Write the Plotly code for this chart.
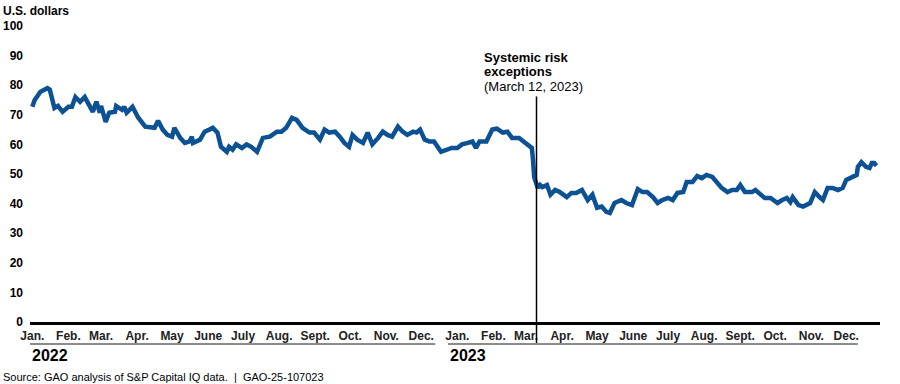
import plotly.graph_objects as go

dates = [
"2022-01-03","2022-01-05","2022-01-10","2022-01-16","2022-01-18","2022-01-22","2022-01-25","2022-01-29",
"2022-02-03","2022-02-06","2022-02-09","2022-02-13","2022-02-17","2022-02-20","2022-02-24","2022-02-27",
"2022-03-02","2022-03-03","2022-03-07","2022-03-10","2022-03-15","2022-03-16","2022-03-21","2022-03-23","2022-03-25","2022-03-30",
"2022-04-04","2022-04-10","2022-04-16","2022-04-18","2022-04-21","2022-04-25","2022-04-29",
"2022-05-03","2022-05-05","2022-05-10","2022-05-14","2022-05-18","2022-05-20","2022-05-21","2022-05-27","2022-05-31",
"2022-06-04","2022-06-07","2022-06-11","2022-06-14","2022-06-19","2022-06-21","2022-06-24","2022-06-27",
"2022-07-02","2022-07-06","2022-07-10","2022-07-15","2022-07-20","2022-07-26",
"2022-08-01","2022-08-05","2022-08-09","2022-08-14","2022-08-18","2022-08-21","2022-08-23","2022-08-29",
"2022-09-02","2022-09-07","2022-09-11","2022-09-15","2022-09-20","2022-09-24","2022-09-28",
"2022-10-02","2022-10-05","2022-10-09","2022-10-14","2022-10-18","2022-10-22","2022-10-27","2022-10-31",
"2022-11-04","2022-11-08","2022-11-13","2022-11-17","2022-11-21","2022-11-26","2022-11-29",
"2022-12-02","2022-12-06","2022-12-10","2022-12-14","2022-12-20","2022-12-25","2022-12-29",
"2023-01-03","2023-01-07","2023-01-12","2023-01-16","2023-01-19","2023-01-22","2023-01-28",
"2023-02-02","2023-02-06","2023-02-11","2023-02-15","2023-02-19","2023-02-25",
"2023-03-03","2023-03-08","2023-03-09","2023-03-10","2023-03-13","2023-03-15","2023-03-17","2023-03-21","2023-03-24","2023-03-28",
"2023-04-01","2023-04-07","2023-04-11","2023-04-15","2023-04-20","2023-04-25","2023-04-29",
"2023-05-03","2023-05-07","2023-05-11","2023-05-14","2023-05-18","2023-05-24","2023-05-28",
"2023-06-02","2023-06-06","2023-06-07","2023-06-11","2023-06-15","2023-06-20","2023-06-24","2023-06-28",
"2023-07-03","2023-07-07","2023-07-11","2023-07-16","2023-07-19","2023-07-24","2023-07-28",
"2023-08-01","2023-08-05","2023-08-10","2023-08-14","2023-08-18","2023-08-23","2023-08-27","2023-08-31",
"2023-09-03","2023-09-07","2023-09-13","2023-09-16","2023-09-20","2023-09-24","2023-09-29",
"2023-10-01","2023-10-05","2023-10-09","2023-10-13","2023-10-16","2023-10-18","2023-10-23","2023-10-27",
"2023-11-02","2023-11-06","2023-11-10","2023-11-13","2023-11-17","2023-11-21","2023-11-26","2023-11-30",
"2023-12-03","2023-12-07","2023-12-12","2023-12-13","2023-12-16","2023-12-20","2023-12-23","2023-12-25","2023-12-27","2023-12-29",
]

prices = [
72.7,75,77.8,79,78.5,72.3,73,71,
72.7,72.7,76,74.4,76,74,71,74.4,
70.7,73,67.6,70.7,71,73,71.7,72.7,70.7,72.7,
69,66,65.6,65.6,68,65,63.2,
62.6,65.6,62.2,60.5,61,62.6,60.5,61.6,64.3,
65,65.6,64,59.2,57.5,59.2,58.2,60,
58.8,60,59.2,57.5,62.2,62.6,
64.3,64.3,65.6,69,68.3,66.6,65.6,64,
64,61.6,65,64,64.3,62.6,60.5,
59.2,63.2,61.6,60.5,64,60,62.2,64.3,
63.2,62.6,66,64.3,63.2,64.3,64,
65,61.6,61,61,57.5,58.2,58.8,
58.8,60,60.5,61,58.8,61,61,
65,65.3,64,64.3,62.2,62.2,
60.5,58.8,54.8,49,45.3,46.3,45.6,46.3,43,44.6,
43.9,42.2,43.6,43.6,44.6,41.2,43,
38.6,39,37.2,36.8,40.2,41.2,40.2,
39.5,43.6,44.9,43.9,43.9,42.2,40.2,41.2,
41.9,41.2,43.6,43.9,47.3,47.3,49.3,
48.6,49.7,49,47,45.3,43.9,44.6,44.6,
46.3,43.9,43.9,44.6,43,41.9,41.9,
41.2,40.2,41.2,41.9,40.5,42.2,39.5,39,
40.2,43.9,42.2,41.2,45.3,45.3,44.6,45.3,
48,48.6,49.7,52.4,54,52.4,52,53.7,53.7,52.8,
]

month_ticks = ["2022-01-03","2022-02-03","2022-03-03","2022-04-03","2022-05-03","2022-06-03",
               "2022-07-03","2022-08-03","2022-09-03","2022-10-03","2022-11-03","2022-12-03",
               "2023-01-03","2023-02-03","2023-03-03","2023-04-03","2023-05-03","2023-06-03",
               "2023-07-03","2023-08-03","2023-09-03","2023-10-03","2023-11-03","2023-12-03"]
month_labels = ["Jan.","Feb.","Mar.","Apr.","May","June","July","Aug.","Sept.","Oct.","Nov.","Dec."] * 2
y_ticks = [0,10,20,30,40,50,60,70,80,90,100]

event_date = "2023-03-12"
year_spans = [("2022", "2022-01-01", "2022-12-15"), ("2023", "2022-12-26", "2023-12-13")]

FONT = "Liberation Sans, Arial, sans-serif"

fig = go.Figure()
fig.add_trace(go.Scatter(x=dates, y=prices, mode="lines",
                         line=dict(color="#0b5194", width=4.5), hoverinfo="skip"))

shapes = [dict(type="line", xref="x", yref="paper", x0=event_date, x1=event_date,
               y0=-0.072, y1=0.762, line=dict(color="black", width=1.5))]
annotations = []
for label, s, e in year_spans:
    shapes.append(dict(type="line", xref="x", yref="paper", x0=s, x1=e, y0=-0.0743, y1=-0.0743,
                       line=dict(color="#8c8c8c", width=2)))
    annotations.append(dict(x=s, xref="x", y=0, yref="paper", yshift=-33, xanchor="left",
                            yanchor="middle", text="<b>%s</b>" % label, showarrow=False,
                            font=dict(family=FONT, size=16, color="black")))

annotations += [
    dict(x=0, xref="paper", xshift=-29, y=1, yref="paper", yshift=15, xanchor="left", yanchor="middle",
         text="<b>U.S. dollars</b>", showarrow=False, font=dict(family=FONT, size=12, color="black")),
    dict(x=event_date, xref="x", xshift=-55, y=1, yref="paper", yshift=-31.5, xanchor="left", yanchor="middle",
         text="<b>Systemic risk</b>", showarrow=False, font=dict(family=FONT, size=13, color="black")),
    dict(x=event_date, xref="x", xshift=-55, y=1, yref="paper", yshift=-45.5, xanchor="left", yanchor="middle",
         text="<b>exceptions</b>", showarrow=False, font=dict(family=FONT, size=13, color="black")),
    dict(x=event_date, xref="x", xshift=-55, y=1, yref="paper", yshift=-60, xanchor="left", yanchor="middle",
         text="(March 12, 2023)", showarrow=False, font=dict(family=FONT, size=13, color="black")),
    dict(x=0, xref="paper", xshift=-29, y=0, yref="paper", yshift=-55, xanchor="left", yanchor="middle",
         text="Source: GAO analysis of S&amp;P Capital IQ data.  |  GAO-25-107023", showarrow=False,
         font=dict(family=FONT, size=11, color="black")),
]

fig.update_layout(
    template="none",
    width=900, height=384,
    margin=dict(l=30, r=20, t=26, b=62, autoexpand=False),
    paper_bgcolor="white", plot_bgcolor="white",
    showlegend=False,
    shapes=shapes, annotations=annotations,
    xaxis=dict(type="date", range=["2022-01-01", "2024-01-01"], showgrid=False, zeroline=False,
               automargin=False,
               showline=True, linecolor="black", linewidth=3,
               tickmode="array", tickvals=month_ticks, ticktext=month_labels, ticks="",
               ticklabelstandoff=1,
               tickfont=dict(family=FONT, size=12, color="#222", weight="bold")),
    yaxis=dict(range=[0, 100], showgrid=False, zeroline=False, showline=False, automargin=False,
               tickmode="array", tickvals=y_ticks, ticks="", ticklabelstandoff=6,
               tickfont=dict(family=FONT, size=12, color="black", weight="bold")),
)

fig.write_html("out.html", config={"displayModeBar": False},
               post_script="document.body.style.margin='0';document.body.style.overflow='hidden';")
